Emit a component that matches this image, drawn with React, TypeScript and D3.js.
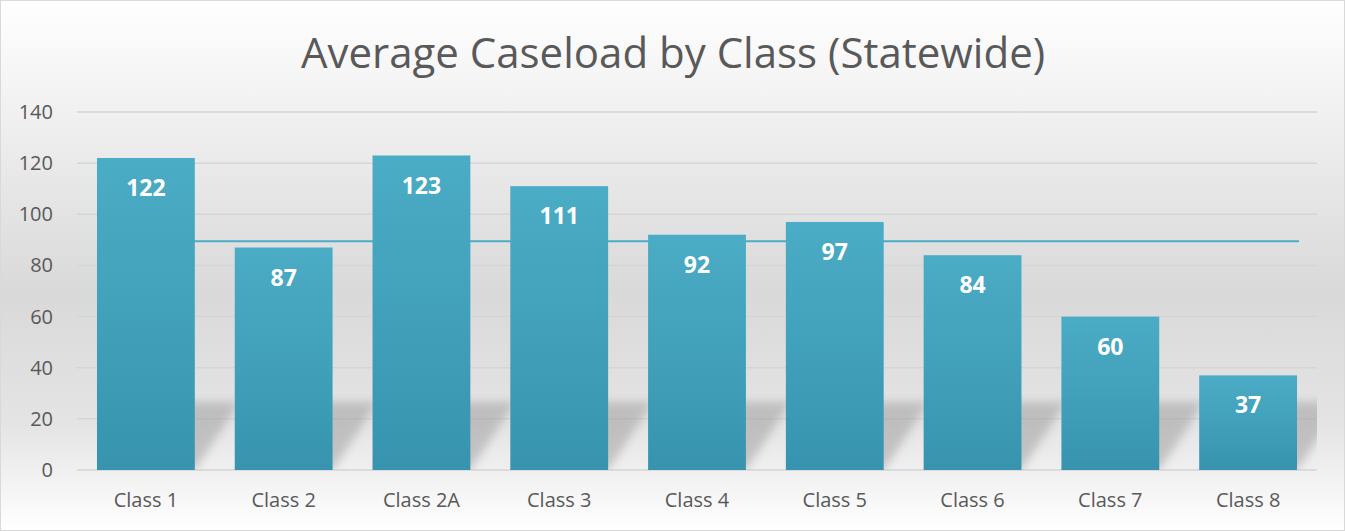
import React from 'react';
import { scaleBand, scaleLinear } from 'd3';

const categories = ['Class 1', 'Class 2', 'Class 2A', 'Class 3', 'Class 4', 'Class 5', 'Class 6', 'Class 7', 'Class 8'];
const caseloads = [122, 87, 123, 111, 92, 97, 84, 60, 37];
const average = 89.5;
const yTicks = [0, 20, 40, 60, 80, 100, 120, 140];

const width = 1345;
const height = 531;
const margin = { top: 112, right: 28, bottom: 61, left: 77 };

const App = () => {
  const x = scaleBand()
    .domain(categories)
    .range([margin.left, width - margin.right])
    .paddingInner(0.29)
    .paddingOuter(0.145);

  const y = scaleLinear()
    .domain([0, 140])
    .range([height - margin.bottom, margin.top]);

  const base = y(0);
  const bw = x.bandwidth();
  const font = 'Open Sans, sans-serif';

  return (
    <>
      <style>{'body{margin:0}'}</style>
      <svg width={width} height={height} style={{ display: 'block' }}>
        <defs>
          <linearGradient id="bg" x1="0" y1="0" x2="0" y2="1">
            <stop offset="0" stopColor="#ffffff" />
            <stop offset="0.55" stopColor="#d9d9d9" />
            <stop offset="0.8" stopColor="#e4e4e4" />
            <stop offset="1" stopColor="#ffffff" />
          </linearGradient>
          <linearGradient id="bar" x1="0" y1="0" x2="0" y2="1">
            <stop offset="0" stopColor="#4bacc6" />
            <stop offset="1" stopColor="#3894ae" />
          </linearGradient>
          <filter id="blur" x="-50%" y="-50%" width="200%" height="200%">
            <feGaussianBlur stdDeviation="5" />
          </filter>
          <clipPath id="plot">
            <rect x={margin.left} y={margin.top} width={width - margin.left - margin.right} height={base - margin.top} />
          </clipPath>
        </defs>
        <rect x={0.5} y={0.5} width={width - 1} height={height - 1} fill="url(#bg)" stroke="#d9d9d9" />

        <text x={673} y={68} textAnchor="middle" fontFamily={font} fontSize={42} fill="#595959">
          Average Caseload by Class (Statewide)
        </text>

        {yTicks.map((t) => (
          <g key={t}>
            <line x1={margin.left} x2={width - margin.right} y1={y(t)} y2={y(t)} stroke="#d5d5d5" strokeWidth={1.5} />
            <text x={53} y={y(t)} dy="0.35em" textAnchor="end" fontFamily={font} fontSize={20} fill="#595959">
              {t}
            </text>
          </g>
        ))}

        <g clipPath="url(#plot)">
          {categories.map((c) => {
            const x0 = x(c)!;
            return (
              <polygon
                key={'s' + c}
                points={`${x0 + 4},${base} ${x0 + bw},${base} ${x0 + bw + 45},${base - 68} ${x0 + 50},${base - 68}`}
                fill="#9a9a9a"
                opacity={0.5}
                filter="url(#blur)"
              />
            );
          })}
        </g>

        <line
          x1={x(categories[0])! + bw / 2}
          x2={x(categories[categories.length - 1])! + bw + 2}
          y1={y(average)}
          y2={y(average)}
          stroke="#4bacc6"
          strokeWidth={2}
        />

        {categories.map((c, i) => (
          <g key={c}>
            <rect x={x(c)} y={y(caseloads[i])} width={bw} height={base - y(caseloads[i])} fill="url(#bar)" />
            <text
              x={x(c)! + bw / 2}
              y={y(caseloads[i]) + 30}
              dy="0.35em"
              textAnchor="middle"
              fontFamily={font}
              fontWeight="bold"
              fontSize={23}
              fill="#ffffff"
            >
              {caseloads[i]}
            </text>
            <text
              x={x(c)! + bw / 2}
              y={500}
              dy="0.35em"
              textAnchor="middle"
              fontFamily={font}
              fontSize={20}
              fill="#595959"
            >
              {c}
            </text>
          </g>
        ))}
      </svg>
    </>
  );
};

export default App;
